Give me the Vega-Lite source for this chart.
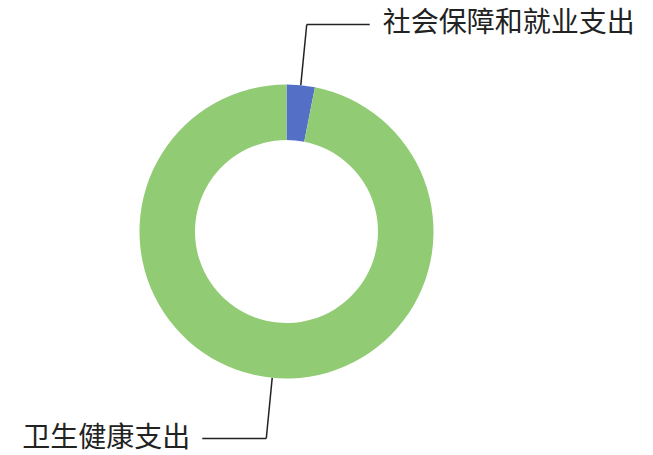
{
  "$schema": "https://vega.github.io/schema/vega-lite/v6.json",
  "width": 653,
  "height": 455,
  "autosize": "none",
  "padding": 0,
  "background": "white",
  "config": {"view": {"stroke": null}},
  "data": {
    "values": [
      {"category": "社会保障和就业支出", "value": 3.1},
      {"category": "卫生健康支出", "value": 96.9}
    ]
  },
  "transform": [
    {"window": [{"op": "sum", "field": "value", "as": "cum"}], "sort": [{"field": "category", "order": "descending"}], "frame": [null, 0]},
    {"joinaggregate": [{"op": "sum", "field": "value", "as": "total"}]},
    {"calculate": "2*PI*(datum.cum - datum.value/2)/datum.total", "as": "mid"},
    {"calculate": "147*sin(datum.mid)", "as": "x0"},
    {"calculate": "147*cos(datum.mid)", "as": "y0"},
    {"calculate": "208*sin(datum.mid)", "as": "x1"},
    {"calculate": "208*cos(datum.mid)", "as": "y1"},
    {"calculate": "datum.x1 + (datum.x1 >= 0 ? 63 : -64)", "as": "x2"},
    {"calculate": "datum.x2 + (datum.x2 >= 0 ? 13 : -12)", "as": "xt"}
  ],
  "layer": [
    {
      "mark": {"type": "arc", "outerRadius": 147, "innerRadius": 91.5},
      "encoding": {
        "x": {"datum": 0, "type": "quantitative", "scale": {"domain": [-286.5, 366.5]}, "axis": null},
        "y": {"datum": 0, "type": "quantitative", "scale": {"domain": [-223.5, 231.5]}, "axis": null},
        "theta": {"field": "value", "type": "quantitative", "stack": true},
        "order": {"field": "category", "sort": "descending"},
        "color": {
          "field": "category",
          "type": "nominal",
          "scale": {"domain": ["社会保障和就业支出", "卫生健康支出"], "range": ["#5470c6", "#91cc75"]},
          "legend": null
        }
      }
    },
    {
      "mark": {"type": "rule", "color": "#222", "strokeWidth": 1.5},
      "encoding": {
        "x": {"field": "x0", "type": "quantitative", "scale": {"domain": [-286.5, 366.5]}, "axis": null},
        "y": {"field": "y0", "type": "quantitative", "scale": {"domain": [-223.5, 231.5]}, "axis": null},
        "x2": {"field": "x1"},
        "y2": {"field": "y1"}
      }
    },
    {
      "mark": {"type": "rule", "color": "#222", "strokeWidth": 1.5},
      "encoding": {
        "x": {"field": "x1", "type": "quantitative", "scale": {"domain": [-286.5, 366.5]}, "axis": null},
        "y": {"field": "y1", "type": "quantitative", "scale": {"domain": [-223.5, 231.5]}, "axis": null},
        "x2": {"field": "x2"}
      }
    },
    {
      "transform": [{"filter": "datum.x1 >= 0"}],
      "mark": {"type": "text", "align": "left", "baseline": "middle", "font": "Noto Sans CJK SC", "fontSize": 28, "color": "#222"},
      "encoding": {
        "x": {"field": "xt", "type": "quantitative", "scale": {"domain": [-286.5, 366.5]}, "axis": null},
        "y": {"field": "y1", "type": "quantitative", "scale": {"domain": [-223.5, 231.5]}, "axis": null},
        "text": {"field": "category"}
      }
    },
    {
      "transform": [{"filter": "datum.x1 < 0"}],
      "mark": {"type": "text", "align": "right", "baseline": "middle", "font": "Noto Sans CJK SC", "fontSize": 28, "color": "#222"},
      "encoding": {
        "x": {"field": "xt", "type": "quantitative", "scale": {"domain": [-286.5, 366.5]}, "axis": null},
        "y": {"field": "y1", "type": "quantitative", "scale": {"domain": [-223.5, 231.5]}, "axis": null},
        "text": {"field": "category"}
      }
    }
  ]
}
